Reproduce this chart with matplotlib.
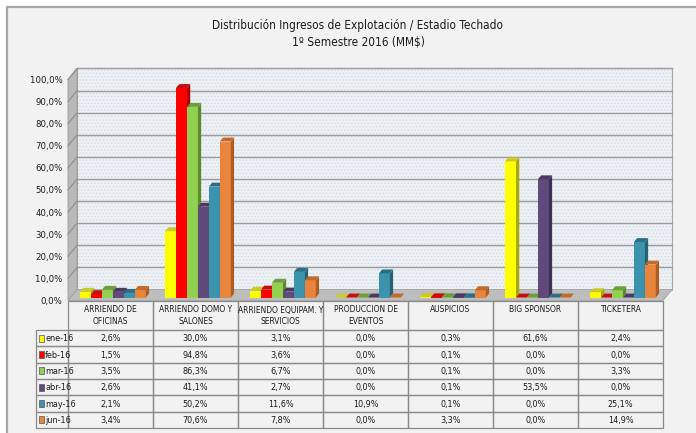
"""
Distribucion ingresos de explotacion - Estadio Techado
3D-look clustered column chart with data table, drawn with matplotlib
"""

import matplotlib
matplotlib.use('Agg')
import matplotlib.pyplot as plt
from matplotlib.patches import Polygon, Rectangle

plt.rcParams['font.family'] = ['DejaVu Sans']
plt.rcParams['font.stretch'] = 'condensed'
plt.rcParams['hatch.linewidth'] = 0.5

# Data
categories = ['ARRIENDO DE\nOFICINAS', 'ARRIENDO DOMO Y\nSALONES', 'ARRIENDO EQUIPAM. Y\nSERVICIOS',
              'PRODUCCION DE\nEVENTOS', 'AUSPICIOS', 'BIG SPONSOR', 'TICKETERA']
months = ['ene-16', 'feb-16', 'mar-16', 'abr-16', 'may-16', 'jun-16']
ene_16 = [2.6, 30.0, 3.1, 0.0, 0.3, 61.6, 2.4]
feb_16 = [1.5, 94.8, 3.6, 0.0, 0.1, 0.0, 0.0]
mar_16 = [3.5, 86.3, 6.7, 0.0, 0.1, 0.0, 3.3]
abr_16 = [2.6, 41.1, 2.7, 0.0, 0.1, 53.5, 0.0]
may_16 = [2.1, 50.2, 11.6, 10.9, 0.1, 0.0, 25.1]
jun_16 = [3.4, 70.6, 7.8, 0.0, 3.3, 0.0, 14.9]
series = [ene_16, feb_16, mar_16, abr_16, may_16, jun_16]
y_ticks = list(range(0, 101, 10))

title = 'Distribución Ingresos de Explotación / Estadio Techado\n1º Semestre 2016 (MM$)'

# front, top, side colours per month
colors = [('#FFFF00', '#C9C930', '#A8A800'),
          ('#FF0000', '#C41010', '#A80000'),
          ('#92D050', '#6E9E3A', '#5E8A2E'),
          ('#604A7B', '#4A3A62', '#3E3054'),
          ('#3B93AE', '#2C6F84', '#276276'),
          ('#E8843C', '#C46A28', '#AD5C22')]


def fmt(v):
    return f'{v:.1f}%'.replace('.', ',')


W, H = 696, 433
fig = plt.figure(figsize=(W / 100, H / 100), dpi=100)
fig.patch.set_facecolor('white')

# pixel-space overlay for frame, title and table
pax = fig.add_axes([0, 0, 1, 1])
pax.set_xlim(0, W)
pax.set_ylim(H, 0)
pax.axis('off')
pax.add_patch(Rectangle((7, 7), W + 20, H + 20, facecolor='#F2F2F2', edgecolor='#A9A9A9', lw=1.6))
pax.text(358, 34, title, ha='center', va='center', fontsize=8.5, linespacing=1.5, color='#1A1A1A')

# chart axes: front plane, x in category units, y in percent
x0_px, x1_px, y0_px, y100_px = 68, 663, 300.5, 79.5
ax = fig.add_axes([x0_px / W, 1 - y0_px / H, (x1_px - x0_px) / W, (y0_px - y100_px) / H])
ax.set_xlim(0, len(categories))
ax.set_ylim(0, 100)
ax.patch.set_visible(False)
for s in ax.spines.values():
    s.set_visible(False)
ax.set_xticks([])
ax.set_yticks(y_ticks)
ax.set_yticklabels([fmt(t) for t in y_ticks], fontsize=6.8, color='#1A1A1A')
ax.tick_params(axis='y', length=0, pad=4)

n = len(categories)
DX = 9 / 85.0          # depth offset, x units
DY = 11 / 2.21         # depth offset, percent units

# walls and floor
ax.add_patch(Polygon([(DX, DY), (n + DX, DY), (n + DX, 100 + DY), (DX, 100 + DY)],
                     closed=True, facecolor='#EDF1F5', edgecolor='#D0D8E0', hatch='.....',
                     lw=0, clip_on=False, zorder=1))
ax.add_patch(Polygon([(DX, DY), (n + DX, DY), (n + DX, 100 + DY), (DX, 100 + DY)],
                     closed=True, fill=False, edgecolor='#A8A8A8', lw=0.8, clip_on=False, zorder=2))
ax.add_patch(Polygon([(0, 0), (DX, DY), (DX, 100 + DY), (0, 100)], closed=True,
                     facecolor='#B9B9B9', edgecolor='#9A9A9A', lw=0.6, clip_on=False, zorder=2))
ax.add_patch(Polygon([(0, 0), (DX, DY), (n + DX, DY), (n, 0)], closed=True,
                     facecolor='#BDBDBD', edgecolor='#A0A0A0', lw=0.6, clip_on=False, zorder=2))
for t in y_ticks[1:]:
    ax.plot([DX, n + DX], [t + DY, t + DY], color='#9C9C9C', lw=1.0, clip_on=False, zorder=3)
    ax.plot([0, DX], [t, t + DY], color='#8E8E8E', lw=0.8, clip_on=False, zorder=3)

# bars
bw = 0.129
f0, f1 = 0.27, 0.63
bdx, bdy = (f1 - f0) * DX, (f1 - f0) * DY
z = 10
for c in range(n):
    for i, vals in enumerate(series):
        front, top, side = colors[i]
        v = vals[c]
        xl = c + 0.5 - 3 * bw + i * bw + f0 * DX
        yb = f0 * DY
        xr = xl + bw
        ax.bar(xl, v, width=bw, bottom=yb, align='edge', color=front,
               edgecolor='none', clip_on=False, zorder=z)
        ax.add_patch(Polygon([(xr, yb), (xr + bdx, yb + bdy), (xr + bdx, yb + v + bdy), (xr, yb + v)],
                             closed=True, facecolor=side, edgecolor='none', clip_on=False, zorder=z))
        ax.add_patch(Polygon([(xl, yb + v), (xr, yb + v), (xr + bdx, yb + v + bdy), (xl + bdx, yb + v + bdy)],
                             closed=True, facecolor=top, edgecolor='none', clip_on=False, zorder=z))
        z += 1

# data table in pixel space
col_w = 85
row_h = 16.35
head_top, head_bot = 300.5, 330
lab_x0 = 36
line_c = '#8A8A8A'

for c, name in enumerate(categories):
    cx = x0_px + c * col_w
    pax.add_patch(Rectangle((cx, head_top), col_w, head_bot - head_top, fill=False,
                            edgecolor=line_c, lw=0.9))
    pax.text(cx + col_w / 2, head_top + 5, name, ha='center', va='top', fontsize=6,
             linespacing=1.4, color='#1A1A1A')

for r, (m, vals) in enumerate(zip(months, series)):
    ry = head_bot + r * row_h
    pax.add_patch(Rectangle((lab_x0, ry), x0_px - lab_x0, row_h, fill=False, edgecolor=line_c, lw=0.9))
    pax.add_patch(Rectangle((lab_x0 + 2.5, ry + row_h / 2 - 3.5), 5, 7,
                            facecolor=colors[r][0], edgecolor='#555555', lw=0.5))
    pax.text(lab_x0 + 9, ry + row_h / 2 + 0.5, m, ha='left', va='center', fontsize=6.5, color='#1A1A1A')
    for c, v in enumerate(vals):
        cx = x0_px + c * col_w
        pax.add_patch(Rectangle((cx, ry), col_w, row_h, fill=False, edgecolor=line_c, lw=0.9))
        pax.text(cx + col_w / 2, ry + row_h / 2 + 0.5, fmt(v), ha='center', va='center',
                 fontsize=6.5, color='#1A1A1A')

fig.savefig('out.png', dpi=100)
plt.close(fig)
